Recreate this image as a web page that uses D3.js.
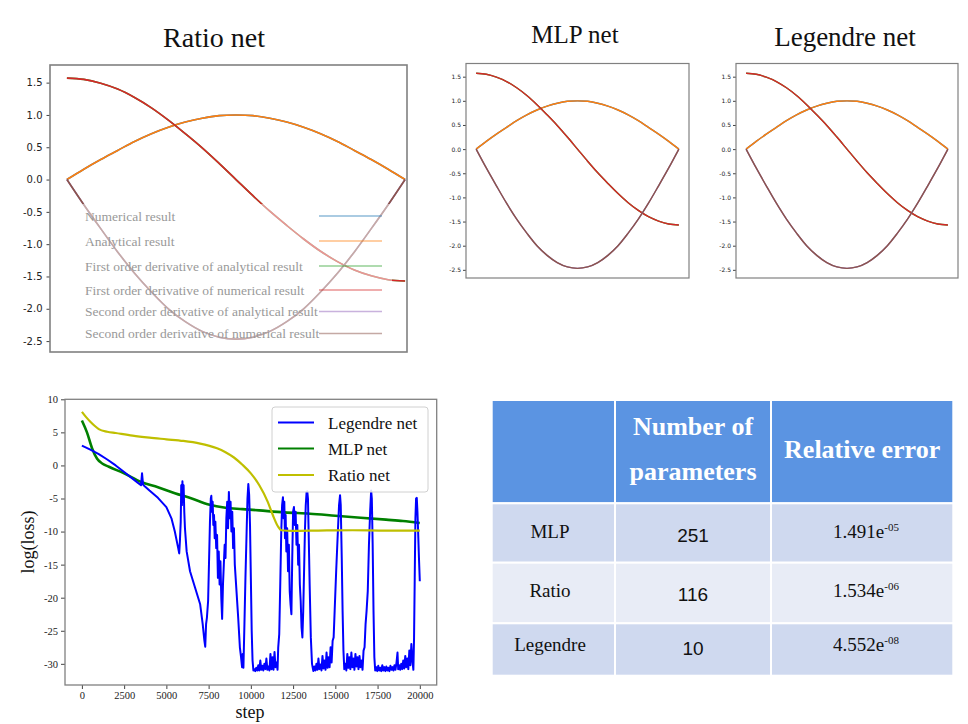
<!DOCTYPE html>
<html lang="en">
<head>
<meta charset="UTF-8">
<script src="https://d3js.org/d3.v7.min.js"></script>
<style>
  body { margin: 0; background: #fff; }
  text { font-family: "Liberation Serif", "Times New Roman", serif; }
  .mpl text { font-family: "DejaVu Sans", sans-serif; }
</style>
</head>
<body>
<svg id="chart" width="968" height="724"></svg>
<script>
// ---- top panels: solution and derivatives ----
const xs = [0, 0.1, 0.2, 0.3, 0.4, 0.5, 0.6, 0.7, 0.8, 0.9, 1.0, 1.1, 1.2, 1.3, 1.4, 1.5, 1.6, 1.7, 1.8, 1.9, 2.0];
const uVals = [0, 0.16, 0.31, 0.45, 0.59, 0.71, 0.81, 0.89, 0.95, 0.99, 1.00, 0.99, 0.95, 0.89, 0.81, 0.71, 0.59, 0.45, 0.31, 0.16, 0];
const duVals = [1.57, 1.55, 1.49, 1.40, 1.27, 1.11, 0.92, 0.71, 0.49, 0.25, 0, -0.25, -0.49, -0.71, -0.92, -1.11, -1.27, -1.40, -1.49, -1.55, -1.57];
const d2uVals = [0, -0.39, -0.76, -1.12, -1.45, -1.74, -2.00, -2.20, -2.35, -2.44, -2.47, -2.44, -2.35, -2.20, -2.00, -1.74, -1.45, -1.12, -0.76, -0.39, 0];
const curveTicks = [1.5, 1.0, 0.5, 0.0, -0.5, -1.0, -1.5, -2.0, -2.5];
const legendLabels = [
  "Numerical result",
  "Analytical result",
  "First order derivative of analytical result",
  "First order derivative of numerical result",
  "Second order derivative of analytical result",
  "Second order derivative of numerical result"
];
const curveSeries = [uVals, uVals, duVals, duVals, d2uVals, d2uVals];
const curveColors = ["#1f77b4", "#ff7f0e", "#2ca02c", "#d62728", "#9467bd", "#8c564b"];

// ---- training loss (step, log(loss)) ----
const lossLegend = ["Legendre net", "MLP net", "Ratio net"];
const ratioLoss = [[0,8.1],[250,7.3],[500,6.6],[750,6.0],[1000,5.5],[1500,5.1],[2000,4.9],[3000,4.5],[4000,4.2],[5000,3.95],[6000,3.7],[7000,3.3],[7500,3.0],[8000,2.6],[8500,2.0],[9000,1.2],[9500,0.1],[10000,-1.2],[10500,-3.0],[11000,-5.5],[11300,-7.5],[11600,-9.2],[11800,-9.8],[12500,-9.9],[14000,-9.85],[16000,-9.8],[18000,-9.85],[20000,-9.85]];
const mlpLoss = [[0,6.8],[300,5.0],[600,2.6],[900,1.0],[1200,0.3],[1600,-0.2],[2500,-1.2],[3500,-2.5],[4500,-3.3],[5500,-4.2],[6500,-5.0],[7500,-5.9],[8500,-6.4],[9500,-6.6],[10500,-6.8],[12000,-7.1],[13500,-7.3],[15000,-7.6],[16500,-7.9],[18000,-8.2],[19000,-8.4],[20000,-8.7]];
const legendreLoss = [
  [0,3.0],[500,2.4],[1000,1.7],[1500,0.9],[2000,0.0],[2500,-1.0],[3000,-2.0],[3300,-2.6],[3500,-3.0],[3560,-1.2],[3620,-2.9],[3700,-3.1],
  [4000,-3.8],[4500,-4.9],[5000,-6.3],[5300,-8.0],[5500,-10.0],[5700,-12.5],[5760,-13.3],[5800,-11.5],[5850,-8.5],[5880,-3.0],[5920,-6.0],[5950,-2.4],[5990,-5.5],[6020,-3.0],[6060,-7.0],[6100,-9.5],
  [6200,-13.0],[6400,-16.0],[6700,-18.5],[7000,-21.0],[7150,-24.0],[7250,-26.5],[7300,-27.4],[7350,-24.0],[7400,-23.0],[7470,-20.5],[7530,-14.0],[7580,-8.5],[7630,-5.0],[7660,-4.6],[7700,-7.0],[7740,-5.5],[7780,-9.0],[7820,-7.5],[7860,-11.0],[7900,-8.5],[7950,-12.5],[8000,-10.5],[8050,-17.0],[8100,-13.0],[8150,-18.0],[8200,-14.5],[8250,-20.0],[8300,-23.2],[8350,-18.0],[8400,-15.0],[8450,-12.0],[8500,-14.0],[8550,-8.0],[8600,-5.5],[8650,-9.5],[8700,-4.0],[8750,-8.0],[8800,-5.5],[8850,-10.0],[8900,-7.0],[8950,-12.5],[9000,-9.5],[9050,-15.0],[9150,-19.0],[9250,-23.0],[9350,-27.5],[9420,-29.0],[9480,-30.5],[9520,-28.5],[9560,-30.6],[9620,-24.0],[9680,-17.0],[9750,-10.0],[9800,-5.0],[9850,-2.8],[9900,-4.5],[9950,-9.0],[10000,-17.0],[10050,-25.0],[10100,-29.5],[10150,-31.0],
  [10200,-30.8],[10260,-31.1],[10320,-30.6],[10380,-31.0],[10440,-30.2],[10500,-31.0],[10560,-29.5],[10620,-30.9],[10680,-30.3],[10740,-31.0],[10800,-30.0],[10860,-30.8],[10920,-29.2],[10980,-30.9],[11040,-30.4],[11100,-31.0],[11160,-28.5],[11220,-30.8],[11280,-29.0],[11340,-30.9],[11400,-28.2],[11460,-30.5],[11520,-29.8],[11580,-30.9],[11620,-27.5],[11680,-25.5],
  [11740,-18.0],[11800,-10.0],[11850,-6.0],[11900,-4.8],[11940,-8.0],[11980,-5.5],[12020,-11.0],[12060,-7.5],[12100,-13.0],[12150,-9.5],[12200,-16.0],[12250,-12.0],[12300,-19.0],[12350,-21.0],[12400,-22.5],[12450,-14.0],[12500,-7.0],[12550,-6.3],[12600,-9.0],[12650,-7.0],[12700,-12.0],[12750,-9.0],[12800,-15.0],[12850,-12.0],[12900,-18.0],[12950,-20.5],[13000,-24.5],[13050,-26.0],[13100,-22.0],[13150,-16.0],[13200,-10.0],[13250,-6.0],[13300,-4.0],[13340,-3.9],[13380,-5.0],[13420,-10.0],[13480,-18.0],[13550,-26.0],[13620,-30.0],[13700,-31.1],
  [13760,-30.4],[13820,-31.0],[13880,-30.0],[13940,-30.9],[14000,-29.2],[14060,-30.8],[14120,-30.1],[14180,-31.0],[14240,-28.8],[14300,-30.7],[14360,-29.5],[14420,-30.9],[14480,-28.3],[14540,-30.6],[14600,-29.0],[14660,-30.5],[14720,-27.5],[14780,-29.8],[14840,-26.5],[14900,-26.0],
  [14960,-22.0],[15050,-16.0],[15150,-10.0],[15220,-6.0],[15280,-4.5],[15320,-6.0],[15380,-14.0],[15430,-22.0],[15480,-28.0],[15530,-30.8],
  [15590,-30.0],[15650,-31.0],[15710,-28.5],[15770,-30.6],[15830,-29.0],[15890,-30.8],[15950,-28.3],[16010,-30.5],[16070,-29.2],[16130,-30.9],[16190,-28.5],[16250,-30.4],[16310,-29.0],[16370,-30.8],[16430,-28.8],[16490,-30.5],[16550,-29.5],[16610,-30.9],[16670,-28.0],[16730,-27.5],[16790,-24.0],[16850,-22.0],
  [16920,-19.0],[16990,-12.0],[17060,-7.0],[17120,-3.8],[17160,-5.0],[17210,-12.0],[17260,-22.0],[17310,-29.0],[17360,-31.0],
  [17420,-30.5],[17480,-31.1],[17540,-30.3],[17600,-31.0],[17660,-30.6],[17720,-31.1],[17780,-30.2],[17840,-31.0],[17900,-30.5],[17960,-31.1],[18020,-30.4],[18080,-31.0],[18140,-30.6],[18200,-31.1],[18260,-30.3],[18320,-30.9],[18380,-30.5],[18440,-31.0],[18500,-30.2],[18560,-30.9],[18620,-29.8],[18680,-28.3],[18720,-30.8],[18780,-30.2],[18840,-30.9],[18900,-30.0],[18960,-30.8],[19020,-29.5],[19080,-30.7],[19140,-28.8],[19200,-30.5],[19260,-29.2],[19320,-30.8],[19380,-28.0],[19440,-30.2],[19500,-27.0],[19560,-29.5],[19620,-30.9],[19660,-26.0],
  [19700,-17.0],[19740,-8.0],[19780,-5.0],[19820,-4.9],[19860,-7.0],[19900,-10.0],[19950,-14.0],[20000,-17.5]
];
const stepTicks = [0, 2500, 5000, 7500, 10000, 12500, 15000, 17500, 20000];
const lossTicks = [10, 5, 0, -5, -10, -15, -20, -25, -30];

// ---- table ----
const tableHeader = ["", "Number of\nparameters", "Relative error"];
const tableModels = ["MLP", "Ratio", "Legendre"];
const paramCounts = [251, 116, 10];
const errMantissa = ["1.491", "1.534", "4.552"];
const errExponent = ["-05", "-06", "-08"];

const svg = d3.select("#chart");
svg.append("rect").attr("width", 968).attr("height", 724).attr("fill", "#fff");

function curvePanel(p) {
  const x = d3.scaleLinear().domain([-0.1, 2.1]).range([p.x0, p.x1]);
  const y = d3.scaleLinear().domain([-2.669, 1.773]).range([p.y1, p.y0]);
  const g = svg.append("g");

  const line = d3.line()
    .x((d, i) => x(xs[i]))
    .y(d => y(d))
    .curve(d3.curveCatmullRom);

  curveSeries.forEach((vals, i) => {
    g.append("path")
      .datum(vals)
      .attr("d", line)
      .attr("fill", "none")
      .attr("stroke", curveColors[i])
      .attr("stroke-width", p.lw);
  });

  const ax = g.append("g")
    .attr("class", "mpl")
    .attr("transform", `translate(${p.x0},0)`)
    .call(d3.axisLeft(y).tickValues(curveTicks).tickSize(p.tick).tickPadding(p.pad)
      .tickFormat(d => d.toFixed(1)));
  ax.select(".domain").remove();
  ax.selectAll("line").attr("stroke", "#444");
  ax.selectAll("text").style("font-size", p.fs + "px").attr("fill", "#222");

  g.append("rect")
    .attr("x", p.x0).attr("y", p.y0)
    .attr("width", (p.frameRight || p.x1) - p.x0).attr("height", p.y1 - p.y0)
    .attr("fill", "none").attr("stroke", "#808080").attr("stroke-width", p.fw);

  svg.append("text")
    .attr("x", p.tx).attr("y", p.ty)
    .attr("text-anchor", "middle")
    .style("font-size", p.tfs + "px")
    .attr("fill", "#111")
    .text(p.title);
  return g;
}

const ratioPanel = curvePanel({ title: "Ratio net", x0: 50, x1: 422, frameRight: 407, y0: 65, y1: 352,
  lw: 1.6, tick: 3.5, pad: 4, fs: 10, fw: 1.6, tx: 214, ty: 47, tfs: 28 });
curvePanel({ title: "MLP net", x0: 466, x1: 689, y0: 63.5, y1: 278,
  lw: 1.4, tick: 3, pad: 2, fs: 6, fw: 1.2, tx: 575, ty: 43, tfs: 25 });
curvePanel({ title: "Legendre net", x0: 736, x1: 958, y0: 63.5, y1: 278,
  lw: 1.4, tick: 3, pad: 2, fs: 6, fw: 1.2, tx: 845, ty: 46, tfs: 27 });

// legend of the Ratio panel, semi-transparent over the curves
ratioPanel.append("rect")
  .attr("x", 72).attr("y", 204).attr("width", 320).attr("height", 144)
  .attr("fill", "#fff").attr("opacity", 0.5);
const legendY = [216, 241, 266, 290, 311.5, 333.5];
legendLabels.forEach((lab, i) => {
  ratioPanel.append("line")
    .attr("x1", 319).attr("x2", 382).attr("y1", legendY[i]).attr("y2", legendY[i])
    .attr("stroke", curveColors[i]).attr("stroke-width", 1.6).attr("opacity", 0.5);
  ratioPanel.append("text")
    .attr("x", 85).attr("y", legendY[i] + 4.5)
    .style("font-size", "13.5px")
    .attr("fill", "#999")
    .text(lab);
});

// ---- loss plot ----
const lx = d3.scaleLinear().domain([-1000, 21000]).range([65, 436.7]);
const ly = d3.scaleLinear().domain([-33.2, 10]).range([685, 399.3]);
const lossG = svg.append("g");

const lossLine = d3.line().x(d => lx(d[0])).y(d => ly(d[1]));
const lossColors = { legendre: "#0000ff", mlp: "#008000", ratio: "#bfbf00" };

lossG.append("path").datum(mlpLoss).attr("d", lossLine.curve(d3.curveMonotoneX))
  .attr("fill", "none").attr("stroke", lossColors.mlp).attr("stroke-width", 2.6);
lossG.append("path").datum(legendreLoss).attr("d", lossLine.curve(d3.curveLinear))
  .attr("fill", "none").attr("stroke", lossColors.legendre).attr("stroke-width", 2)
  .attr("stroke-linejoin", "round");
lossG.append("path").datum(ratioLoss).attr("d", lossLine.curve(d3.curveMonotoneX))
  .attr("fill", "none").attr("stroke", lossColors.ratio).attr("stroke-width", 2.2);

const xAx = lossG.append("g")
  .attr("transform", "translate(0,685)")
  .call(d3.axisBottom(lx).tickValues(stepTicks).tickSize(4).tickPadding(3).tickFormat(d => String(d)));
const yAx = lossG.append("g")
  .attr("transform", "translate(65,0)")
  .call(d3.axisLeft(ly).tickValues(lossTicks).tickSize(4).tickPadding(3).tickFormat(d => String(d)));
[xAx, yAx].forEach(a => {
  a.select(".domain").remove();
  a.selectAll("line").attr("stroke", "#444");
  a.selectAll("text").style("font-size", "10.5px").style("font-family", "Liberation Serif, serif").attr("fill", "#222");
});
lossG.append("rect")
  .attr("x", 65).attr("y", 399.3).attr("width", 371.7).attr("height", 285.7)
  .attr("fill", "none").attr("stroke", "#808080").attr("stroke-width", 1.3);

lossG.append("text")
  .attr("transform", "translate(34,542) rotate(-90)")
  .attr("text-anchor", "middle")
  .style("font-size", "18px").attr("fill", "#111")
  .text("log(loss)");
lossG.append("text")
  .attr("x", 250).attr("y", 718)
  .attr("text-anchor", "middle")
  .style("font-size", "18px").attr("fill", "#111")
  .text("step");

// loss legend
lossG.append("rect")
  .attr("x", 272).attr("y", 407).attr("width", 156).attr("height", 85).attr("rx", 3)
  .attr("fill", "#fff").attr("fill-opacity", 0.85).attr("stroke", "#d0d0d0");
const lossLegendColors = [lossColors.legendre, lossColors.mlp, lossColors.ratio];
const lossLegendY = [422.5, 448.5, 475];
lossLegend.forEach((lab, i) => {
  lossG.append("line")
    .attr("x1", 278).attr("x2", 314).attr("y1", lossLegendY[i]).attr("y2", lossLegendY[i])
    .attr("stroke", lossLegendColors[i]).attr("stroke-width", 2);
  lossG.append("text")
    .attr("x", 328).attr("y", lossLegendY[i] + 6)
    .style("font-size", "17px").attr("fill", "#111")
    .text(lab);
});

// ---- table ----
const colEdges = [491.7, 615, 771, 953.3];
const rowEdges = [400, 503.3, 562.7, 623.3, 675.7];
const rowFill = ["#5b94e2", "#cfd9ef", "#e8ecf6", "#cfd9ef"];
const textBase = [538, 597, 651];
const tableG = svg.append("g");
for (let r = 0; r < 4; r++) {
  for (let c = 0; c < 3; c++) {
    tableG.append("rect")
      .attr("x", colEdges[c]).attr("y", rowEdges[r])
      .attr("width", colEdges[c + 1] - colEdges[c]).attr("height", rowEdges[r + 1] - rowEdges[r])
      .attr("fill", rowFill[r]).attr("stroke", "#fff").attr("stroke-width", 2);
  }
}
const colMid = c => (colEdges[c] + colEdges[c + 1]) / 2;

// header
tableHeader.forEach((h, c) => {
  const lines = h.split("\n").filter(s => s.length);
  const mid = (rowEdges[0] + rowEdges[1]) / 2;
  lines.forEach((s, k) => {
    tableG.append("text")
      .attr("x", colMid(c)).attr("y", mid + 6 + (k - (lines.length - 1) / 2) * 45)
      .attr("text-anchor", "middle")
      .style("font-size", "26px").style("font-weight", "bold")
      .attr("fill", "#fff")
      .text(s);
  });
});

tableModels.forEach((m, i) => {
  tableG.append("text")
    .attr("x", 550).attr("y", textBase[i])
    .attr("text-anchor", "middle")
    .style("font-size", "19px").attr("fill", "#111")
    .text(m);
  tableG.append("text")
    .attr("x", colMid(1)).attr("y", textBase[i] + 4)
    .attr("text-anchor", "middle")
    .style("font-size", "19px").style("font-family", "Liberation Sans, Arial, sans-serif")
    .attr("fill", "#111")
    .text(paramCounts[i]);
  const t = tableG.append("text")
    .attr("x", 866).attr("y", textBase[i])
    .attr("text-anchor", "middle")
    .style("font-size", "19px").attr("fill", "#111");
  t.append("tspan").text(errMantissa[i] + "e");
  t.append("tspan").attr("dy", -7).style("font-size", "11px").text(errExponent[i]);
});
</script>
</body>
</html>
